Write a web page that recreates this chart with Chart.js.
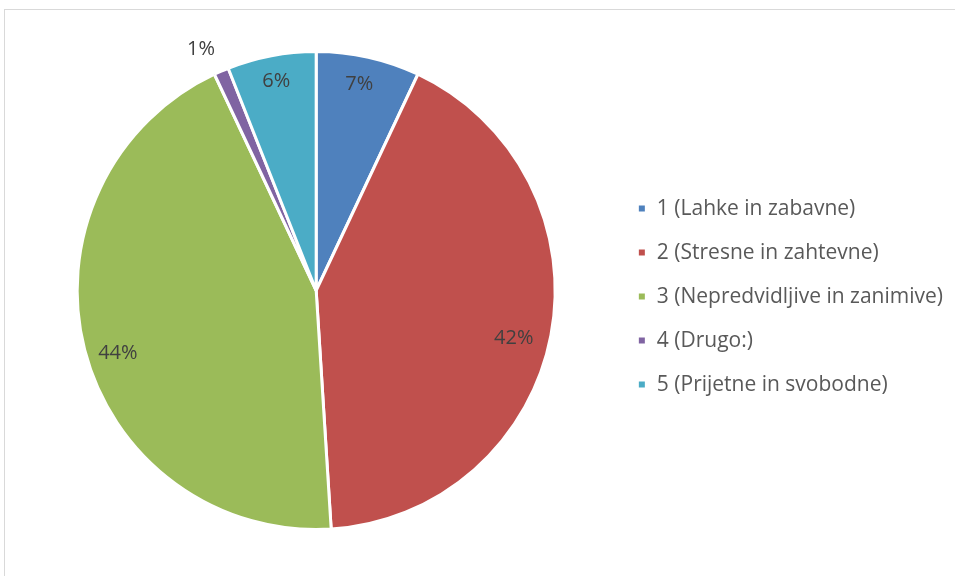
<!DOCTYPE html>
<html>
<head>
<meta charset="utf-8">
<script src="https://cdn.jsdelivr.net/npm/chart.js@4"></script>
<style>
  body { margin: 0; background: #fff; }
  #wrap { position: relative; width: 955px; height: 576px; overflow: hidden; }
  #frame { position: absolute; left: 4px; top: 9px; width: 1000px; height: 600px;
           border-left: 1px solid #d9d9d9; border-top: 1px solid #d9d9d9; }
  canvas { position: absolute; left: 0; top: 0; }
</style>
</head>
<body>
<div id="wrap">
  <div id="frame"></div>
  <canvas id="myChart" width="955" height="576"></canvas>
</div>
<script>
var categories = [
    "1 (Lahke in zabavne)",
    "2 (Stresne in zahtevne)",
    "3 (Nepredvidljive in zanimive)",
    "4 (Drugo:)",
    "5 (Prijetne in svobodne)"
];
var shares = [7, 42, 44, 1, 6];
var colors = ["#4F81BD", "#C0504D", "#9BBB59", "#8064A2", "#4BACC6"];
// where each percentage label sits: fraction of radius, and turn (deg) from the slice middle
var labelRadius = [0.88, 0.85, 0.87, 1.12, 0.89];
var labelTurn = [-0.8, 2.7, -3.1, -2.1, 0];

var pctLabels = {
    id: "pctLabels",
    afterDatasetsDraw: function (chart) {
        var ctx = chart.ctx;
        var meta = chart.getDatasetMeta(0);
        var total = shares.reduce(function (a, b) { return a + b; }, 0);
        ctx.save();
        ctx.font = "20px 'Open Sans'";
        ctx.fillStyle = "#404040";
        ctx.textAlign = "center";
        ctx.textBaseline = "middle";
        meta.data.forEach(function (arc, i) {
            var p = arc.getProps(["x", "y", "startAngle", "endAngle", "outerRadius"], true);
            var mid = (p.startAngle + p.endAngle) / 2 + labelTurn[i] * Math.PI / 180;
            var r = p.outerRadius * labelRadius[i];
            var txt = Math.round(shares[i] / total * 100) + "%";
            ctx.fillText(txt, p.x + Math.cos(mid) * r, p.y + Math.sin(mid) * r);
        });
        ctx.restore();
    }
};

var config = {
    type: "pie",
    data: {
        labels: categories,
        datasets: [
            {
                data: shares,
                backgroundColor: colors,
                borderColor: "#ffffff",
                borderWidth: 3,
            },
        ],
    },
    options: {
        responsive: false,
        animation: false,
        layout: {
            padding: { left: 18, top: 50, bottom: 45, right: 2 },
        },
        plugins: {
            legend: {
                position: "right",
                title: { display: true, text: "", font: { size: 1 }, padding: { top: 5, bottom: 6 } },
                labels: {
                    boxWidth: 9,
                    boxHeight: 9,
                    padding: 23,
                    color: "#595959",
                    font: { family: "'Open Sans'", size: 21 },
                },
            },
            tooltip: { enabled: false },
        },
    },
    plugins: [pctLabels],
};

var ctx = document.getElementById("myChart");
window.myPie = new Chart(ctx, config);
</script>
</body>
</html>
